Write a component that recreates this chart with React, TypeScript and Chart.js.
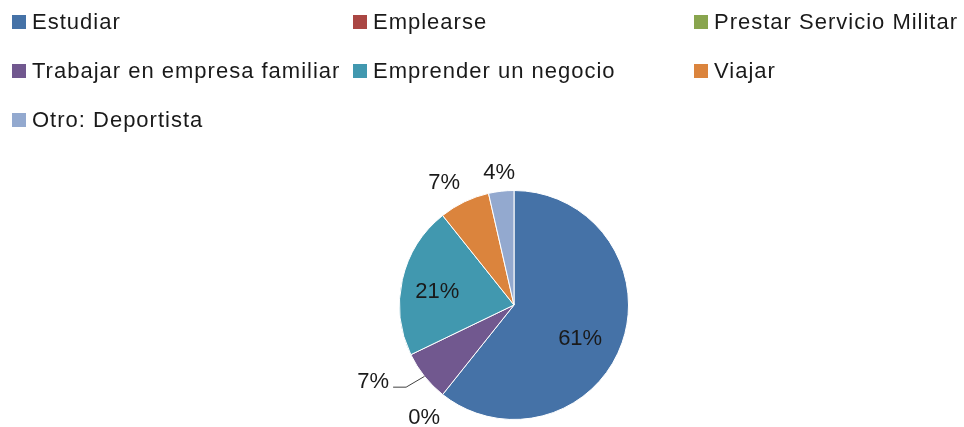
import { useEffect, useRef } from 'react';
import { Chart, registerables } from 'chart.js';

Chart.register(...registerables);

const categories = [
  'Estudiar',
  'Emplearse',
  'Prestar Servicio Militar',
  'Trabajar en empresa familiar',
  'Emprender un negocio',
  'Viajar',
  'Otro: Deportista',
];
const counts = [17, 0, 0, 2, 6, 2, 1];
const colors = ['#4572A7', '#AA4643', '#89A54E', '#71588F', '#4198AF', '#DB843D', '#93A9CF'];

// label placement style (radial factor, angle shift in degrees), leader line flags
const labelRadius = [0.65, 1.26, 1.26, 1.4, 0.68, 1.23, 1.16];
const labelAngleShift = [8, 0, 0, 10, -3, -4, 0];
const labelLeader = [false, false, false, true, false, false, false];

const FONT = '"Liberation Sans", Arial, sans-serif';
const TEXT = '#1a1a1a';

const legendPlugin = {
  id: 'gridLegend',
  afterDraw(chart: any) {
    const ctx = chart.ctx as CanvasRenderingContext2D;
    const cols = 3;
    const colW = 341;
    const x0 = 12;
    const y0 = 22;
    const rowH = 49;
    const sq = 14;
    ctx.save();
    ctx.font = `22px ${FONT}`;
    (ctx as any).letterSpacing = '1px';
    ctx.textBaseline = 'middle';
    ctx.textAlign = 'left';
    categories.forEach((label, i) => {
      const c = i % cols;
      const r = Math.floor(i / cols);
      const x = x0 + c * colW;
      const y = y0 + r * rowH;
      ctx.fillStyle = colors[i];
      ctx.fillRect(x, y - sq / 2, sq, sq);
      ctx.fillStyle = TEXT;
      ctx.fillText(label, x + sq + 6, y + 1);
    });
    ctx.restore();
  },
};

const pieLabelPlugin = {
  id: 'pieLabels',
  afterDatasetsDraw(chart: any) {
    const ctx = chart.ctx as CanvasRenderingContext2D;
    const meta = chart.getDatasetMeta(0);
    const total = counts.reduce((a, b) => a + b, 0);
    const boxes: { x1: number; y1: number; x2: number; y2: number }[] = [];
    ctx.save();
    ctx.font = `22px ${FONT}`;
    ctx.textBaseline = 'middle';
    ctx.textAlign = 'center';
    ctx.fillStyle = TEXT;
    meta.data.forEach((arc: any, i: number) => {
      const { x, y, startAngle, endAngle, outerRadius } = arc.getProps(
        ['x', 'y', 'startAngle', 'endAngle', 'outerRadius'],
        true
      );
      const mid = (startAngle + endAngle) / 2;
      const a = mid + (labelAngleShift[i] * Math.PI) / 180;
      const lx = x + Math.cos(a) * outerRadius * labelRadius[i];
      const ly = y + Math.sin(a) * outerRadius * labelRadius[i];
      const text = Math.round((counts[i] / total) * 100) + '%';
      const w = ctx.measureText(text).width;
      const box = { x1: lx - w / 2, y1: ly - 10, x2: lx + w / 2, y2: ly + 10 };
      if (boxes.some((b) => b.x1 < box.x2 && box.x1 < b.x2 && b.y1 < box.y2 && box.y1 < b.y2)) return;
      boxes.push(box);
      ctx.fillText(text, lx, ly);
      if (labelLeader[i]) {
        const ex = x + Math.cos(mid) * outerRadius;
        const ey = y + Math.sin(mid) * outerRadius;
        ctx.strokeStyle = '#404040';
        ctx.lineWidth = 1;
        ctx.beginPath();
        ctx.moveTo(lx + w / 2 + 4, ly + 5.5);
        ctx.lineTo(lx + w / 2 + 17, ly + 5.5);
        ctx.lineTo(ex, ey);
        ctx.stroke();
      }
    });
    ctx.restore();
  },
};

export default function App() {
  const ref = useRef<HTMLCanvasElement | null>(null);
  useEffect(() => {
    document.body.style.margin = '0';
    if (!ref.current) return;
    const chart = new Chart(ref.current, {
      type: 'pie',
      data: {
        labels: categories,
        datasets: [
          {
            data: counts,
            backgroundColor: colors,
            borderColor: '#ffffff',
            borderWidth: 1,
          },
        ],
      },
      options: {
        animation: false,
        responsive: false,
        layout: { padding: { top: 190, bottom: 7, left: 64, right: 0 } },
        plugins: {
          legend: { display: false },
          tooltip: { enabled: false },
        },
        events: [],
      },
      plugins: [legendPlugin, pieLabelPlugin],
    });
    return () => chart.destroy();
  }, []);
  return (
    <div style={{ width: 964, height: 427, background: '#fff' }}>
      <canvas ref={ref} width={964} height={427} />
    </div>
  );
}
